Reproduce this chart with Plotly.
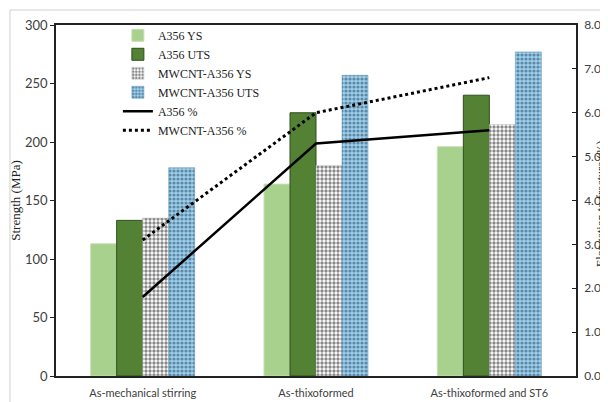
import plotly.graph_objects as go

categories = ["As-mechanical stirring", "As-thixoformed", "As-thixoformed and ST6"]
a356_ys = [113, 164, 196]
a356_uts = [133, 225, 240]
mw_ys = [135, 180, 215]
mw_uts = [178, 257, 277]
a356_el = [1.8, 5.3, 5.6]
mw_el = [3.1, 6.0, 6.8]
left_ticks = [0, 50, 100, 150, 200, 250, 300]
right_ticks = [0, 1, 2, 3, 4, 5, 6, 7, 8]

fig = go.Figure()
fig.add_trace(go.Bar(name="A356 YS", x=categories, y=a356_ys,
                     marker=dict(color="#A9D18E", line=dict(color="#C5E0B4", width=1))))
fig.add_trace(go.Bar(name="A356 UTS", x=categories, y=a356_uts,
                     marker=dict(color="#548235", line=dict(color="#2E4D1C", width=1))))
fig.add_trace(go.Bar(name="MWCNT-A356 YS", x=categories, y=mw_ys,
                     marker=dict(color="white", line=dict(color="#BBBBBB", width=0.5),
                                 pattern=dict(shape=".", fgcolor="#111111", bgcolor="white",
                                              size=4, solidity=0.55))))
fig.add_trace(go.Bar(name="MWCNT-A356 UTS", x=categories, y=mw_uts,
                     marker=dict(color="#9DC3E6", line=dict(color="#5B8DB8", width=0.5),
                                 pattern=dict(shape=".", fgcolor="#1F3F5F", bgcolor="#9DD0EA",
                                              size=4, solidity=0.5))))
fig.add_trace(go.Scatter(name="A356 %", x=categories, y=a356_el, yaxis="y2", mode="lines",
                         line=dict(color="black", width=2.5)))
fig.add_trace(go.Scatter(name="MWCNT-A356 %", x=categories, y=mw_el, yaxis="y2", mode="lines",
                         line=dict(color="black", width=3, dash="dot")))

tickfont = dict(family="Lato, Liberation Sans, sans-serif", size=13, color="#404040")
rtickfont = dict(family="Lato, Liberation Sans, sans-serif", size=12, color="#404040")
catfont = dict(family="Lato, Liberation Sans, sans-serif", size=11, color="#404040")
serif = "Liberation Serif, Times New Roman, serif"

fig.update_layout(
    width=600, height=394,
    margin=dict(l=48, r=32, t=17, b=26, autoexpand=False),
    paper_bgcolor="white", plot_bgcolor="white",
    barmode="group", bargap=0.4, bargroupgap=0,
    showlegend=True,
    legend=dict(x=0.119, y=1.012, xanchor="left", yanchor="top",
                font=dict(family=serif, size=12, color="#222222"),
                bgcolor="rgba(0,0,0,0)", itemwidth=30, tracegroupgap=0),
    xaxis=dict(type="category", showline=True, linecolor="#222222", linewidth=1.5,
               mirror=True, ticks="", tickfont=catfont, ticklabelstandoff=6,
               showgrid=False, zeroline=False),
    yaxis=dict(range=[0, 300], tickvals=left_ticks, showline=True, linecolor="#222222",
               linewidth=1.5, ticks="outside", ticklen=4, tickcolor="#222222",
               tickfont=tickfont, showgrid=False, zeroline=False,
               title=dict(text="Strength (MPa)", font=dict(family=serif, size=13, color="#222222"),
                          standoff=4)),
    yaxis2=dict(range=[0, 8], tickvals=right_ticks, ticktext=[f"{v:.1f}" for v in right_ticks],
                overlaying="y", side="right", showline=True, linecolor="#222222",
                linewidth=1.5, ticks="inside", ticklen=4, tickcolor="#222222",
                tickfont=rtickfont, ticklabelstandoff=4, showgrid=False, zeroline=False),
    annotations=[dict(text="Elongation to fracture (%)", xref="paper", yref="paper",
                      x=1.048, y=0.49, xanchor="center", yanchor="middle", textangle=-90,
                      showarrow=False, font=dict(family=serif, size=12, color="#222222"))],
    shapes=[dict(type="line", xref="paper", yref="paper", x0=-0.0885, x1=1.2, y0=1.0427, y1=1.0427,
                 line=dict(color="#D0D0D0", width=1)),
            dict(type="line", xref="paper", yref="paper", x0=-0.0885, x1=-0.0885, y0=-0.2, y1=1.0427,
                 line=dict(color="#D0D0D0", width=1))],
)

fig.write_html("out.html")
